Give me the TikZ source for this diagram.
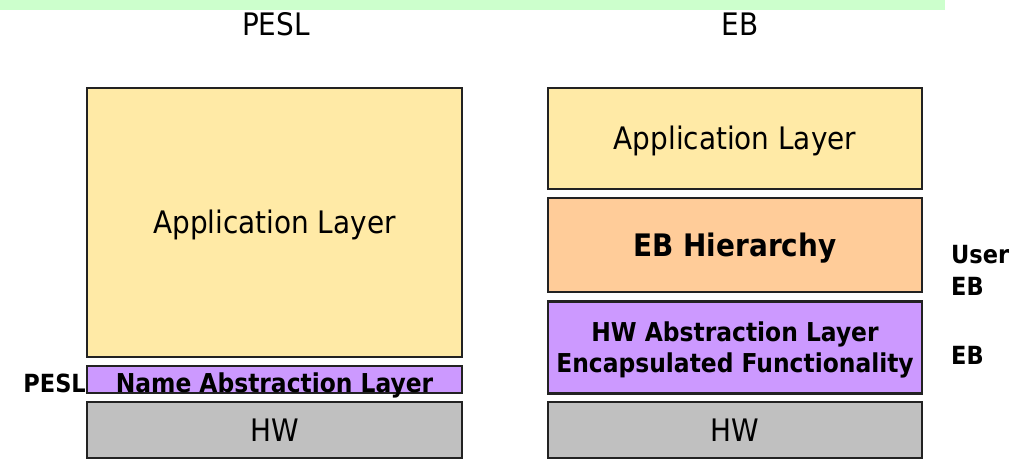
\documentclass[tikz,border=0pt]{standalone}
\usepackage{fontspec}
\setmainfont{DejaVu Sans Condensed}
\definecolor{appc}{HTML}{FFEAA6}
\definecolor{orgc}{HTML}{FFCC99}
\definecolor{purc}{HTML}{CC99FF}
\definecolor{hwc}{HTML}{C0C0C0}
\definecolor{grnc}{HTML}{CCFFCC}
\definecolor{edgec}{HTML}{222222}
\begin{document}
\begin{tikzpicture}[x=1pt,y=-1pt,
  layer/.style={draw=edgec,line width=2.6pt,inner sep=0pt,align=center},
  big/.style={font=\fontsize{31}{36}\selectfont,text height=22.6pt,text depth=0pt},
  bigb/.style={font=\fontsize{31}{36}\selectfont\bfseries,text height=22.6pt,text depth=0pt},
  midb/.style={font=\fontsize{26}{32}\selectfont\bfseries},
  lbl/.style={font=\fontsize{25}{32}\selectfont\bfseries,inner sep=0pt},
]
\useasboundingbox (0,0) rectangle (1029,462);
\fill[grnc] (0,0) rectangle (945,10);
\node[font=\fontsize{31}{36}\selectfont,anchor=base,inner sep=0pt] (t1) at (276,36) {PESL};
\node[font=\fontsize{31}{36}\selectfont,anchor=base,inner sep=0pt] (t2) at (740,36) {EB};
% left column
\node[layer,big,fill=appc,minimum width=375pt,minimum height=269pt] (lapp) at (274.5,222.5) {Application Layer};
\node[layer,fill=purc,minimum width=375pt,minimum height=27pt] (lname) at (274.5,379.5) {};
\node[midb,anchor=base,inner sep=0pt] (lnamet) at (274.5,392.5) {Name Abstraction Layer};
\node[layer,big,fill=hwc,minimum width=375pt,minimum height=56pt] (lhw) at (274.5,430) {HW};
\node[lbl,anchor=base east] (lp) at (86,393) {PESL};
% right column
\node[layer,big,fill=appc,minimum width=374pt,minimum height=101pt] (rapp) at (735,138.5) {Application Layer};
\node[layer,bigb,fill=orgc,minimum width=374pt,minimum height=94pt] (reb) at (735,245) {EB Hierarchy};
\node[layer,fill=purc,minimum width=374pt,minimum height=92pt,font=\fontsize{26}{31}\selectfont\bfseries,text depth=0pt] (rhal) at (735,347.5) {HW Abstraction Layer\\Encapsulated Functionality};
\node[layer,big,fill=hwc,minimum width=374pt,minimum height=56pt] (rhw) at (735,430) {HW};
\node[lbl,anchor=west,align=left,text depth=0pt] (ueb) at (951,270) {User\\EB};
\node[lbl,anchor=base west] (eb) at (951,365) {EB};
\end{tikzpicture}
\end{document}
